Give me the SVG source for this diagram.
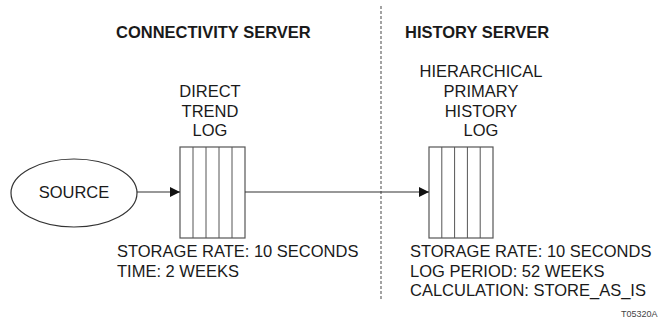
<svg xmlns="http://www.w3.org/2000/svg" width="658" height="323" viewBox="0 0 658 323">
<style>
text{font-family:"Liberation Sans",Arial,sans-serif;fill:#1a1a1a;font-size:16.5px}
.title{font-weight:bold}
.c{text-anchor:middle}
.box{fill:#fff;stroke:#555;stroke-width:1.2}
.div{stroke:#555;stroke-width:1}
.conn{stroke:#333;stroke-width:1.2;fill:none}
</style>
<defs>
<marker id="ah" markerWidth="10" markerHeight="10" refX="10" refY="5" orient="auto" markerUnits="userSpaceOnUse">
<path d="M0,0 L10,5 L0,10 Z" fill="#111"/>
</marker>
</defs>
<rect width="658" height="323" fill="#fff"/>
<line x1="381" y1="6" x2="381" y2="301" stroke="#666" stroke-width="1.2" stroke-dasharray="3,2"/>
<text class="title" x="116" y="38">CONNECTIVITY SERVER</text>
<text class="title" x="405" y="38">HISTORY SERVER</text>
<g id="source">
<ellipse cx="74" cy="193" rx="63" ry="34" fill="#fff" stroke="#333" stroke-width="1.2"/>
<text class="c" x="74" y="198">SOURCE</text>
</g>
<g id="direct-trend-log">
<text class="c" x="210" y="97">DIRECT</text>
<text class="c" x="210" y="117">TREND</text>
<text class="c" x="210" y="136">LOG</text>
<rect class="box" x="180" y="147" width="65" height="91"/>
<line class="div" x1="193" y1="147" x2="193" y2="238"/>
<line class="div" x1="206" y1="147" x2="206" y2="238"/>
<line class="div" x1="219" y1="147" x2="219" y2="238"/>
<line class="div" x1="232" y1="147" x2="232" y2="238"/>
<text x="117" y="257">STORAGE RATE: 10 SECONDS</text>
<text x="117" y="276.5">TIME: 2 WEEKS</text>
</g>
<g id="hierarchical-primary-history-log">
<text class="c" x="481" y="77">HIERARCHICAL</text>
<text class="c" x="481" y="97">PRIMARY</text>
<text class="c" x="481" y="117">HISTORY</text>
<text class="c" x="481" y="136">LOG</text>
<rect class="box" x="429" y="147" width="64" height="91"/>
<line class="div" x1="441.8" y1="147" x2="441.8" y2="238"/>
<line class="div" x1="454.6" y1="147" x2="454.6" y2="238"/>
<line class="div" x1="467.4" y1="147" x2="467.4" y2="238"/>
<line class="div" x1="480.2" y1="147" x2="480.2" y2="238"/>
<text x="410" y="257">STORAGE RATE: 10 SECONDS</text>
<text x="410" y="276.5">LOG PERIOD: 52 WEEKS</text>
<text x="410" y="296">CALCULATION: STORE_AS_IS</text>
</g>
<g id="connectors">
<line class="conn" x1="137" y1="192" x2="180" y2="192" marker-end="url(#ah)"/>
<line class="conn" x1="245" y1="192" x2="429" y2="192" marker-end="url(#ah)"/>
</g>
<text x="621" y="317" style="font-size:9px;fill:#444">T05320A</text>
</svg>
